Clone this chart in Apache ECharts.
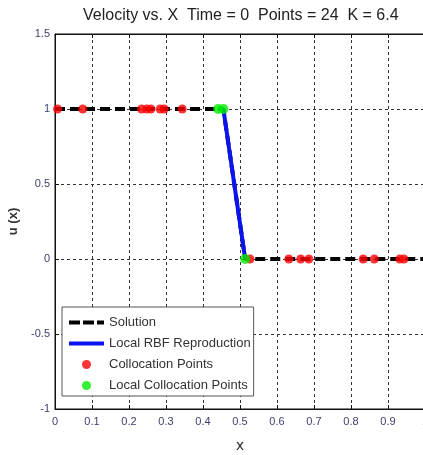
<!DOCTYPE html>
<html>
<head>
<meta charset="utf-8">
<script src="https://cdn.jsdelivr.net/npm/echarts@6/dist/echarts.min.js"></script>
<style>html,body{margin:0;padding:0;background:#fff}#c{width:423px;height:455px}</style>
</head>
<body>
<div id="c"></div>
<script>
var titleText = 'Velocity vs. X  Time = 0  Points = 24  K = 6.4';
var xTicks = [0, 0.1, 0.2, 0.3, 0.4, 0.5, 0.6, 0.7, 0.8, 0.9, 1];
var yTicks = [-1, -0.5, 0, 0.5, 1, 1.5];
var solutionX = [0, 0.007, 0.075, 0.234, 0.248, 0.259, 0.284, 0.295, 0.344, 0.441, 0.455, 0.514, 0.527, 0.632, 0.664, 0.686, 0.833, 0.863, 0.932, 0.943, 1];
var solutionU = [1, 1, 1, 1, 1, 1, 1, 1, 1, 1, 1, 0, 0, 0, 0, 0, 0, 0, 0, 0, 0];
var rbfX = [0.441, 0.455, 0.514];
var rbfU = [1, 1, 0];
var collocX = [0.007, 0.075, 0.234, 0.248, 0.259, 0.284, 0.295, 0.344, 0.527, 0.632, 0.664, 0.686, 0.833, 0.863, 0.932, 0.943];
var collocU = [1, 1, 1, 1, 1, 1, 1, 1, 0, 0, 0, 0, 0, 0, 0, 0];
var localX = [0.441, 0.455, 0.514];
var localU = [1, 1, 0];

function pairs(xs, ys) { return xs.map(function (x, i) { return [x, ys[i]]; }); }

var font = 'Liberation Sans, Arial, sans-serif';
var tickColor = '#3c3f6a';
var chart = echarts.init(document.getElementById('c'), null, {renderer: 'canvas'});
chart.setOption({
  animation: false,
  backgroundColor: '#fff',
  title: {
    text: titleText, left: 78, top: 3,
    textStyle: {fontFamily: font, fontSize: 16, fontWeight: 'normal', color: '#222'}
  },
  grid: {left: 55, top: 34, width: 370, height: 375, outerBoundsMode: 'none', containLabel: false,
         show: true, borderColor: '#111', borderWidth: 1, backgroundColor: 'transparent'},
  legend: {
    orient: 'vertical', left: 62, top: 307, width: 200,
    backgroundColor: '#fff', borderColor: '#555', borderWidth: 1,
    padding: [9, 3, 4, 5], itemGap: 8, itemWidth: 35, itemHeight: 9,
    textStyle: {fontFamily: font, fontSize: 13, color: '#333'},
    data: [
      {name: 'Solution', itemStyle: {opacity: 0}, lineStyle: {width: 4, type: [11, 3]}},
      {name: 'Local RBF Reproduction', itemStyle: {opacity: 0}, lineStyle: {width: 4}},
      {name: 'Collocation Points', icon: 'circle'},
      {name: 'Local Collocation Points', icon: 'circle'}
    ]
  },
  xAxis: [{
    type: 'value', min: 0, max: 1, interval: 0.1,
    name: 'x', nameLocation: 'middle', nameGap: 29,
    nameTextStyle: {fontFamily: font, fontSize: 15, color: '#222'},
    axisLine: {show: true, onZero: false, lineStyle: {color: '#111', width: 1}},
    axisTick: {show: true, inside: true, length: 4, lineStyle: {color: '#111'}},
    axisLabel: {fontFamily: font, fontSize: 11, color: tickColor, margin: 7},
    splitLine: {show: true, lineStyle: {color: '#333', type: [3, 3], width: 1}}
  }, {
    type: 'value', position: 'top', min: 0, max: 1, interval: 0.1,
    axisLine: {show: true, onZero: false, lineStyle: {color: '#111'}},
    axisTick: {show: true, inside: true, length: 4, lineStyle: {color: '#111'}},
    axisLabel: {show: false}, splitLine: {show: false}
  }],
  yAxis: {
    type: 'value', min: -1, max: 1.5, interval: 0.5,
    name: 'u (x)', nameLocation: 'middle', nameGap: 25, nameRotate: 90,
    nameTextStyle: {fontFamily: font, fontSize: 13, fontWeight: 'bold', color: '#333'},
    axisLine: {show: true, onZero: false, lineStyle: {color: '#111', width: 1}},
    axisTick: {show: true, inside: true, length: 4, lineStyle: {color: '#111'}},
    axisLabel: {fontFamily: font, fontSize: 11, color: tickColor, margin: 5},
    splitLine: {show: true, lineStyle: {color: '#333', type: [3, 3], width: 1}}
  },
  series: [
    {
      name: 'Solution', type: 'line', data: pairs(solutionX, solutionU),
      showSymbol: false, symbol: 'none', z: 2,
      lineStyle: {color: '#000', width: 4, type: [10, 5]},
      itemStyle: {color: '#000'}
    },
    {
      name: 'Local RBF Reproduction', type: 'line', data: pairs(rbfX, rbfU),
      showSymbol: false, symbol: 'none', z: 3,
      lineStyle: {color: '#0a14f0', width: 4},
      itemStyle: {color: '#0a14f0'}
    },
    {
      name: 'Collocation Points', type: 'scatter', data: pairs(collocX, collocU),
      symbol: 'circle', symbolSize: 9, z: 4,
      itemStyle: {color: '#ff0000'}
    },
    {
      name: 'Local Collocation Points', type: 'scatter', data: pairs(localX, localU),
      symbol: 'circle', symbolSize: 10, z: 5,
      itemStyle: {color: '#00ee00'}
    }
  ]
});
</script>
</body>
</html>
